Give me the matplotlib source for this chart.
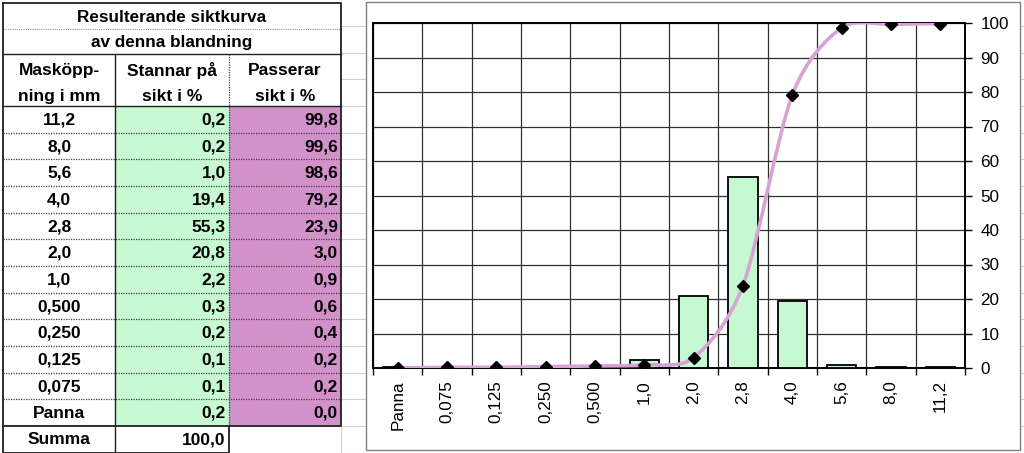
import matplotlib
matplotlib.use("Agg")
import matplotlib.pyplot as plt
from matplotlib.patches import Rectangle, PathPatch
from matplotlib.path import Path
from matplotlib.ticker import FixedLocator, NullFormatter, FixedFormatter

plt.rcParams['font.family'] = ['Liberation Sans', 'DejaVu Sans']

# ---------------- data ----------------
title_lines = ["Resulterande siktkurva", "av denna blandning"]
col_headers = [("Masköpp-", "ning i mm"), ("Stannar på", "sikt i %"), ("Passerar", "sikt i %")]
sieves = ["11,2", "8,0", "5,6", "4,0", "2,8", "2,0", "1,0", "0,500", "0,250", "0,125", "0,075", "Panna"]
retained = [0.2, 0.2, 1.0, 19.4, 55.3, 20.8, 2.2, 0.3, 0.2, 0.1, 0.1, 0.2]
passing = [99.8, 99.6, 98.6, 79.2, 23.9, 3.0, 0.9, 0.6, 0.4, 0.2, 0.2, 0.0]
total_label = "Summa"
total_value = "100,0"
yticks = [0, 10, 20, 30, 40, 50, 60, 70, 80, 90, 100]

GREEN = '#c6f9d2'
PINK = '#d391cb'
LINE = '#d8a2d5'

W, H = 1024, 453
fig = plt.figure(figsize=(W / 100, H / 100), dpi=100)

# ---------------- table (pixel coordinates) ----------------
tab = fig.add_axes([0, 0, 1, 1])
tab.set_xlim(0, W)
tab.set_ylim(H, 0)
tab.axis('off')
tab.set_zorder(0)

x0, x1, x2, x3 = 3, 115.3, 228.7, 341
rh = 26.67
data_top = 106
nrows = len(sieves)
data_bot = data_top + rh * nrows
sum_bot = data_bot + rh

# spreadsheet background gridlines
for k in range(-4, nrows + 2):
    yy = data_top + rh * k
    tab.plot([x3, 366], [yy, yy], color='#d0d0d0', lw=0.8, zorder=0)
    tab.plot([1020, W], [yy, yy], color='#d0d0d0', lw=0.8, zorder=0)
tab.plot([x3, x3], [sum_bot - rh, H], color='#d0d0d0', lw=0.8, zorder=0)

# fills
tab.add_patch(Rectangle((x1, data_top), x2 - x1, data_bot - data_top, facecolor=GREEN, edgecolor='none', zorder=1))
tab.add_patch(Rectangle((x2, data_top), x3 - x2, data_bot - data_top, facecolor=PINK, edgecolor='none', zorder=1))

dark = '#202020'
tab.plot([x0, x3, x3, x0, x0], [3, 3, data_bot, data_bot, 3], color=dark, lw=1.3, zorder=3)
tab.plot([x0, x0, x2, x2], [data_bot, sum_bot, sum_bot, data_bot], color=dark, lw=1.3, zorder=3)
tab.plot([x0, x3], [29, 29], color='#909090', lw=0.8, ls=(0, (1, 1)), zorder=2)
tab.plot([x0, x3], [54, 54], color=dark, lw=1.0, zorder=3)
tab.plot([x0, x3], [data_top, data_top], color=dark, lw=1.0, zorder=3)
tab.plot([x1, x1], [54, sum_bot], color=dark, lw=1.0, zorder=3)
tab.plot([x2, x2], [54, data_bot], color='#404040', lw=0.9, ls=(0, (1, 1)), zorder=3)
for k in range(1, nrows):
    yy = data_top + rh * k
    tab.plot([x0, x3], [yy, yy], color='#404040', lw=0.9, ls=(0, (1, 1)), zorder=2)

fs_title = 12.3
fs = 12.5
tab.text((x0 + x3) / 2, 17, title_lines[0], ha='center', va='center', fontsize=fs_title, weight='bold', zorder=4)
tab.text((x0 + x3) / 2, 43, title_lines[1], ha='center', va='center', fontsize=fs_title, weight='bold', zorder=4)
centers = [(x0 + x1) / 2, (x1 + x2) / 2, (x2 + x3) / 2]
for cx, (a, b) in zip(centers, col_headers):
    tab.text(cx, 70.5, a, ha='center', va='center', fontsize=fs, weight='bold', zorder=4)
    tab.text(cx, 96.5, b, ha='center', va='center', fontsize=fs, weight='bold', zorder=4)

def fmt(v):
    return f"{v:.1f}".replace('.', ',')

for i, (s, r, p) in enumerate(zip(sieves, retained, passing)):
    yc = data_top + rh * (i + 0.5) + 0.5
    tab.text(centers[0], yc, s, ha='center', va='center', fontsize=fs, weight='bold', zorder=4)
    tab.text(x2 - 3, yc, fmt(r), ha='right', va='center', fontsize=fs, weight='bold', zorder=4)
    tab.text(x3 - 3, yc, fmt(p), ha='right', va='center', fontsize=fs, weight='bold', zorder=4)
yc = data_bot + rh * 0.5 + 0.5
tab.text(centers[0], yc, total_label, ha='center', va='center', fontsize=fs, weight='bold', zorder=4)
tab.text(x2 - 3, yc, total_value, ha='right', va='center', fontsize=fs, weight='bold', zorder=4)

# chart frame
tab.add_patch(Rectangle((366, 2), 1020 - 366, 448, facecolor='white', edgecolor='#808080', lw=1.0, zorder=5))

# ---------------- chart ----------------
pl, pr, pt, pb = 373, 965, 23, 368
ax = fig.add_axes([pl / W, (H - pb) / H, (pr - pl) / W, (pb - pt) / H])
ax.set_zorder(2)

cats = sieves[::-1]
bars = retained[::-1]
line = passing[::-1]
xs = list(range(len(cats)))

ax.bar(xs, bars, width=0.6, color=GREEN, edgecolor='black', linewidth=1.3, zorder=3)

# smoothed line (Bezier through the points, like a spreadsheet "smoothed line")
pts = list(zip(xs, line))
verts = [pts[0]]
codes = [Path.MOVETO]
n = len(pts)
k_t = 1 / 7
for i in range(n - 1):
    p0 = pts[i - 1] if i > 0 else pts[i]
    p1 = pts[i]
    p2 = pts[i + 1]
    p3 = pts[i + 2] if i + 2 < n else pts[i + 1]
    c1 = (p1[0] + (p2[0] - p0[0]) * k_t, p1[1] + (p2[1] - p0[1]) * k_t)
    c2 = (p2[0] - (p3[0] - p1[0]) * k_t, p2[1] - (p3[1] - p1[1]) * k_t)
    verts += [c1, c2, p2]
    codes += [Path.CURVE4] * 3
ax.add_patch(PathPatch(Path(verts, codes), facecolor='none', edgecolor=LINE, lw=2.6, zorder=4, capstyle='round'))
ax.plot(xs, line, linestyle='none', marker='D', markersize=6.2, color='black', zorder=5)

ax.set_xlim(-0.5, len(cats) - 0.5)
ax.set_ylim(0, 100)

ax.xaxis.set_major_locator(FixedLocator([i - 0.5 for i in range(len(cats) + 1)]))
ax.xaxis.set_major_formatter(NullFormatter())
ax.xaxis.set_minor_locator(FixedLocator(xs))
ax.xaxis.set_minor_formatter(FixedFormatter(cats))
ax.tick_params(axis='x', which='major', length=5, width=1.0, direction='out', color='black')
ax.tick_params(axis='x', which='minor', length=0, pad=9, labelsize=12.3, labelrotation=90)

ax.yaxis.tick_right()
ax.set_yticks(yticks)
ax.set_yticklabels([str(v) for v in yticks])
ax.tick_params(axis='y', which='major', length=5, width=1.0, direction='out', labelsize=12.3, pad=6, color='black')

ax.grid(True, which='major', color='#303030', lw=0.9, zorder=1)
ax.set_axisbelow(True)
for sp in ax.spines.values():
    sp.set_color('black')
    sp.set_linewidth(1.4)

fig.savefig('out.png', dpi=100)
